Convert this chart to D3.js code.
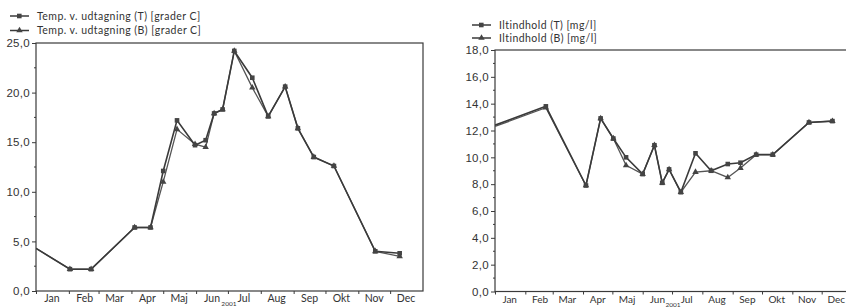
<!DOCTYPE html>
<html><head><meta charset="utf-8">
<script src="https://cdn.jsdelivr.net/npm/d3@7"></script>
<style>
body{margin:0;background:#fff;}
svg{display:block;font-family:Lato,"Open Sans",sans-serif;}
</style></head>
<body><svg id="c" width="846" height="307"></svg>
<script>
const months = ["Jan","Feb","Mar","Apr","Maj","Jun","Jul","Aug","Sep","Okt","Nov","Dec"];
const monthsRight = ["Jan","Feb","Mar","Apr","Maj","Jun","Jul","Aug","Sep","Okt","Nov","Dec"];
const yearLabel = "2001";

// Left chart: temperature
const tempDates = ["2001-01-01","2001-02-02","2001-02-22","2001-04-04","2001-04-19","2001-05-01","2001-05-14","2001-05-31","2001-06-10","2001-06-18","2001-06-26","2001-07-07","2001-07-24","2001-08-08","2001-08-24","2001-09-05","2001-09-20","2001-10-09","2001-11-17","2001-12-10"];
const tempT = [4.3,2.2,2.2,6.4,6.4,12.1,17.2,14.7,15.2,17.9,18.3,24.2,21.5,17.6,20.6,16.4,13.5,12.6,4.0,3.8];
const tempB = [4.3,2.2,2.2,6.4,6.4,11.0,16.3,14.8,14.5,17.9,18.3,24.2,20.5,17.6,20.6,16.4,13.5,12.6,4.0,3.5];
const tempTicks = [0,5,10,15,20,25];
const tempLegend = ["Temp. v. udtagning (T) [grader C]","Temp. v. udtagning (B) [grader C]"];

// Right chart: oxygen
const oxyDates = ["2001-01-01","2001-02-22","2001-04-04","2001-04-19","2001-05-02","2001-05-15","2001-06-01","2001-06-13","2001-06-21","2001-06-28","2001-07-10","2001-07-25","2001-08-10","2001-08-27","2001-09-09","2001-09-25","2001-10-12","2001-11-18","2001-12-12"];
const oxyT = [12.4,13.8,7.9,12.9,11.4,10.0,8.75,10.9,8.1,9.1,7.4,10.3,9.0,9.5,9.6,10.2,10.2,12.6,12.7];
const oxyB = [12.3,13.7,7.9,12.9,11.4,9.4,8.75,10.9,8.1,9.1,7.4,8.9,9.0,8.5,9.2,10.2,10.2,12.6,12.7];
const oxyTicks = [0,2,4,6,8,10,12,14,16,18];
const oxyLegend = ["Iltindhold (T) [mg/l]","Iltindhold (B) [mg/l]"];

const svg = d3.select("#c");
const ink = "#3a3a3a";
const parse = d3.timeParse("%Y-%m-%d");

function chart(o){
  const g = svg.append("g");
  const x = d3.scaleTime().domain([new Date(2001,0,1), new Date(2002,0,1)]).range([o.x0, o.x1]);
  const y = d3.scaleLinear().domain([0,o.ymax]).range([o.y0, o.y1]);
  g.append("rect").attr("x",o.x0).attr("y",o.y1).attr("width",o.x1-o.x0).attr("height",o.y0-o.y1)
    .attr("fill","none").attr("stroke",ink).attr("stroke-width",1.2);
  const ya = d3.axisLeft(y).tickValues(o.ticks).tickSize(4).tickPadding(2)
    .tickFormat(d=>d3.format(".1f")(d).replace(".",","));
  const yg = g.append("g").attr("transform",`translate(${o.x0},0)`).call(ya);
  yg.select(".domain").remove();
  yg.selectAll("line").attr("stroke",ink);
  yg.selectAll("text").attr("fill","#333").attr("font-size","11.5px").attr("letter-spacing","0.3px");
  const minor = [];
  for(let i=0;i<o.ticks.length-1;i++) minor.push((o.ticks[i]+o.ticks[i+1])/2);
  g.selectAll(".mn").data(minor).join("line").attr("x1",o.x0-2).attr("x2",o.x0)
    .attr("y1",d=>y(d)).attr("y2",d=>y(d)).attr("stroke",ink);
  const mStarts = d3.timeMonths(new Date(2001,0,1), new Date(2002,0,1));
  const xa = d3.axisBottom(x).tickValues(mStarts).tickSize(3).tickFormat("");
  const xg = g.append("g").attr("transform",`translate(0,${o.y0})`).call(xa);
  xg.select(".domain").remove();
  xg.selectAll("line").attr("stroke",ink);
  g.selectAll(".ml").data(mStarts).join("text")
    .attr("x",d=>x(new Date(d.getFullYear(), d.getMonth(), 16)))
    .attr("y",o.y0+11).attr("text-anchor","middle").attr("font-size",o.mfs).attr("fill","#333")
    .text((d,i)=>o.months[i]);
  const yx = (x(new Date(2001,5,16)) + x(new Date(2001,6,16)))/2;
  g.append("text").attr("x",yx+1).attr("y",o.y0+15).attr("text-anchor","middle")
    .attr("font-size","6.5px").attr("fill","#333").text(yearLabel);
  const line = d3.line().x(d=>x(d[0])).y(d=>y(d[1]));
  const dB = o.dates.map((d,i)=>[parse(d),o.B[i]]);
  const dT = o.dates.map((d,i)=>[parse(d),o.T[i]]);
  const clipId = "clip"+o.x0;
  svg.append("clipPath").attr("id",clipId).append("rect").attr("x",o.x0).attr("y",o.y1-5).attr("width",o.x1-o.x0).attr("height",o.y0-o.y1+10);
  const sg = g.append("g").attr("clip-path",`url(#${clipId})`);
  sg.append("path").datum(dB).attr("d",line).attr("fill","none").attr("stroke","#555").attr("stroke-width",1.3);
  sg.append("path").datum(dT).attr("d",line).attr("fill","none").attr("stroke",ink).attr("stroke-width",1.6);
  const tri = d3.symbol().type(d3.symbolTriangle).size(18);
  sg.selectAll(".tb").data(dB.slice(1)).join("path").attr("d",tri)
    .attr("transform",d=>`translate(${x(d[0])},${y(d[1])})`).attr("fill","#444");
  sg.selectAll(".sq").data(dT.slice(1)).join("rect")
    .attr("x",d=>x(d[0])-2.3).attr("y",d=>y(d[1])-2.3).attr("width",4.6).attr("height",4.6).attr("fill","#444");
  o.legend.forEach((t,i)=>{
    const ly = o.ly + i*o.lstep;
    g.append("line").attr("x1",o.lx).attr("x2",o.lx+19).attr("y1",ly).attr("y2",ly).attr("stroke",ink).attr("stroke-width",1.5);
    if(i===0) g.append("rect").attr("x",o.lx+7).attr("y",ly-2.3).attr("width",4.6).attr("height",4.6).attr("fill","#444");
    else g.append("path").attr("d",tri).attr("transform",`translate(${o.lx+9.5},${ly})`).attr("fill","#444");
    g.append("text").attr("x",o.lx+27).attr("y",ly+3.5).attr("font-size","10.5px").attr("letter-spacing","0.45px")
      .attr("fill","#333").text(t);
  });
}

chart({x0:36,x1:423,y0:291,y1:43,ymax:25,ticks:tempTicks,dates:tempDates,T:tempT,B:tempB,
  months:months,legend:tempLegend,lx:10,ly:16,lstep:14.5,mfs:"10.5px"});
chart({x0:495,x1:852,y0:291.5,y1:50,ymax:18,ticks:oxyTicks,dates:oxyDates,T:oxyT,B:oxyB,
  months:monthsRight,legend:oxyLegend,lx:472,ly:25,lstep:13,mfs:"10px"});
</script></body></html>
